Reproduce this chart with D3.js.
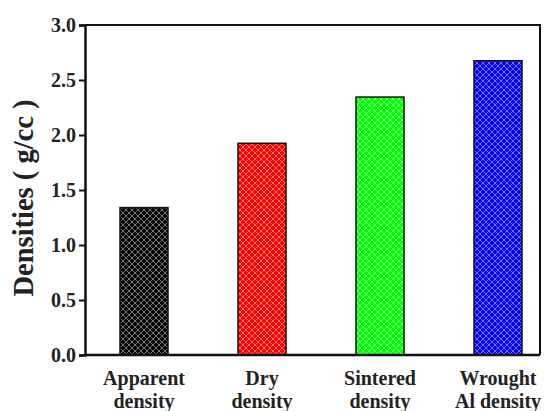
<!DOCTYPE html>
<html><head><meta charset="utf-8">
<script src="https://cdn.jsdelivr.net/npm/d3@7"></script>
<style>body{margin:0;background:#fff}svg{display:block}</style>
</head><body>
<script>
const categories = ["Apparent|density", "Dry|density", "Sintered|density", "Wrought|Al density"];
const values = [1.34, 1.925, 2.345, 2.675];
const colors = ["#000000", "#ff0000", "#00ff00", "#0000ff"];
const yTicks = [0, 0.5, 1.0, 1.5, 2.0, 2.5, 3.0];

const W = 544, H = 411;
const mLeft = 85, mRight = 540, mTop = 25, mBottom = 355;
const FONT = "Liberation Serif, Times New Roman, serif";
const svg = d3.select("body").append("svg").attr("width", W).attr("height", H);

const x = d3.scaleBand().domain(categories).range([mLeft, mLeft + 472]).paddingInner(0.593).paddingOuter(0.2965);
const y = d3.scaleLinear().domain([0, 3]).range([mBottom, mTop]);

const defs = svg.append("defs");
colors.forEach((c, i) => {
  const p = defs.append("pattern").attr("id", "pat" + i).attr("patternUnits", "userSpaceOnUse")
    .attr("width", 6).attr("height", 6);
  p.append("rect").attr("width", 6).attr("height", 6).attr("fill", c);
  p.append("path").attr("d", "M-1,1 L1,-1 M0,6 L6,0 M5,7 L7,5 M-1,5 L1,7 M0,0 L6,6 M5,-1 L7,1")
    .attr("stroke", "#fff").attr("stroke-opacity", 0.5).attr("stroke-width", 0.9);
});

svg.selectAll("rect.bar").data(values).enter().append("rect").attr("class", "bar")
  .attr("x", (d, i) => x(categories[i]))
  .attr("width", x.bandwidth())
  .attr("y", d => y(d))
  .attr("height", d => y(0) - y(d))
  .attr("fill", (d, i) => "url(#pat" + i + ")")
  .attr("stroke", "#111").attr("stroke-width", 1.5);

// frame
svg.append("path").attr("d", `M${mLeft},${mTop} L${mRight},${mTop} L${mRight},${mBottom}`)
  .attr("fill", "none").attr("stroke", "#111").attr("stroke-width", 2);

const yAxis = svg.append("g").attr("transform", `translate(${mLeft},0)`)
  .call(d3.axisLeft(y).tickValues(yTicks).tickFormat(d3.format(".1f")).tickSize(6).tickPadding(3));
yAxis.select(".domain").attr("stroke", "#111").attr("stroke-width", 2.5);
yAxis.selectAll(".tick line").attr("stroke", "#111").attr("stroke-width", 2);
yAxis.selectAll("text").attr("font-family", FONT)
  .attr("font-weight", "bold").attr("font-size", 20).attr("fill", "#222");

svg.append("line").attr("x1", mLeft).attr("x2", mRight).attr("y1", mBottom).attr("y2", mBottom)
  .attr("stroke", "#111").attr("stroke-width", 2.5);

categories.forEach((c, i) => {
  const parts = c.split("|");
  const t = svg.append("text").attr("text-anchor", "middle")
    .attr("font-family", FONT)
    .attr("font-weight", "bold").attr("font-size", 20).attr("fill", "#222");
  parts.forEach((p, j) => {
    t.append("tspan").attr("x", x(c) + x.bandwidth() / 2).attr("y", 385 + j * 23).text(p);
  });
});

svg.append("text").attr("transform", "translate(33,198) rotate(-90)")
  .attr("text-anchor", "middle")
  .attr("font-family", FONT)
  .attr("font-weight", "bold").attr("font-size", 28.5).attr("fill", "#222")
  .text("Densities ( g/cc )");
</script>
</body></html>
